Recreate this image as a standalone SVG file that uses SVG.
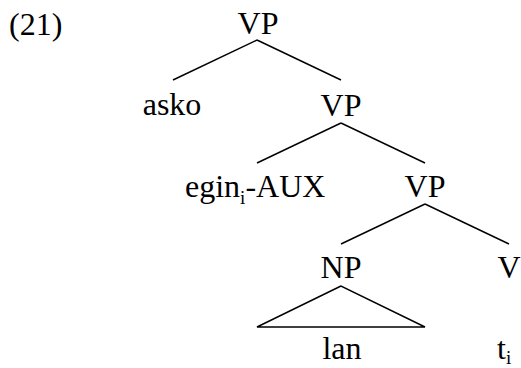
<svg xmlns="http://www.w3.org/2000/svg" width="521" height="368" viewBox="0 0 521 368">
<style>
.m{text-anchor:middle}
line,polygon{stroke:#000;stroke-width:1.4;fill:none}
</style>
<rect width="521" height="368" fill="#fff"/>
<text id="label" x="9" y="35" style="font-family:'Liberation Serif',serif;font-size:32px">(21)</text>
<g id="vp1"><text class="m" x="258" y="34" style="font-family:'Liberation Serif',serif;font-size:32px">VP</text></g>
<g id="asko"><text class="m" x="172" y="115" style="font-family:'Liberation Serif',serif;font-size:32px">asko</text></g>
<g id="vp2"><text class="m" x="341" y="116" style="font-family:'Liberation Serif',serif;font-size:32px">VP</text></g>
<g id="egin"><text x="185" y="197" style="font-family:'Liberation Serif',serif;font-size:32px">egin<tspan dy="7" style="font-size:19px">i</tspan><tspan dy="-7">-AUX</tspan></text></g>
<g id="vp3"><text class="m" x="425" y="197" style="font-family:'Liberation Serif',serif;font-size:32px">VP</text></g>
<g id="np"><text class="m" x="341" y="278" style="font-family:'Liberation Serif',serif;font-size:32px">NP</text></g>
<g id="v"><text class="m" x="509" y="278" style="font-family:'Liberation Serif',serif;font-size:32px">V</text></g>
<g id="lan"><text class="m" x="342" y="359" style="font-family:'Liberation Serif',serif;font-size:32px">lan</text></g>
<g id="t"><text x="497" y="359" style="font-family:'Liberation Serif',serif;font-size:32px">t<tspan dy="5" style="font-size:19px">i</tspan></text></g>
<g id="connectors">
<line x1="257" y1="40" x2="173" y2="80"/>
<line x1="257" y1="40" x2="341" y2="80"/>
<line x1="341" y1="123" x2="257" y2="163"/>
<line x1="341" y1="123" x2="425" y2="163"/>
<line x1="425" y1="204" x2="341" y2="244"/>
<line x1="425" y1="204" x2="509" y2="244"/>
<polygon points="341,286 257,327 425,327"/>
</g>
</svg>
